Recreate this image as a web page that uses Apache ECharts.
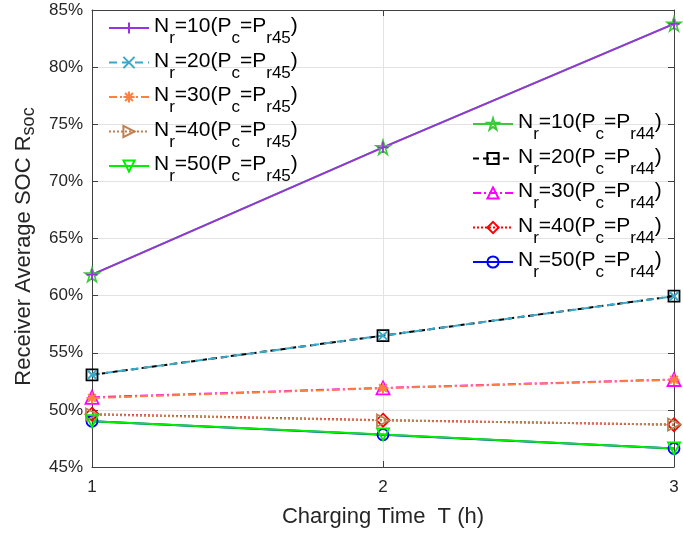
<!DOCTYPE html>
<html><head><meta charset="utf-8">
<script src="https://cdn.jsdelivr.net/npm/echarts@6/dist/echarts.min.js"></script>
<style>html,body{margin:0;padding:0;background:#fff}#c{width:683px;height:533px}</style>
</head><body><div id="c"></div>
<script>
const xValues = [1, 2, 3];
const yTicks = [45, 50, 55, 60, 65, 70, 75, 80, 85];
// Pc = Pr45
const nr10_45 = [61.84, 72.98, 83.78];
const nr20_45 = [53.07, 56.5, 59.95];
const nr30_45 = [51.04, 51.9, 52.64];
const nr40_45 = [49.59, 49.07, 48.72];
const nr50_45 = [49.01, 47.85, 46.63];
// Pc = Pr44
const nr10_44 = [61.84, 72.98, 83.78];
const nr20_44 = [53.07, 56.5, 59.95];
const nr30_44 = [51.1, 51.92, 52.66];
const nr40_44 = [49.62, 49.1, 48.7];
const nr50_44 = [49.0, 47.83, 46.62];
const labels45 = ['Nr=10(Pc=Pr45)','Nr=20(Pc=Pr45)','Nr=30(Pc=Pr45)','Nr=40(Pc=Pr45)','Nr=50(Pc=Pr45)'];
const labels44 = ['Nr=10(Pc=Pr44)','Nr=20(Pc=Pr44)','Nr=30(Pc=Pr44)','Nr=40(Pc=Pr44)','Nr=50(Pc=Pr44)'];

const FONT = 'Liberation Sans, Arial, sans-serif';
const TXT = '#262626';
function pts(arr){ return xValues.map((x,i)=>[x, arr[i]]); }

const SYM = {
  plus: 'path://M0,5L10,5M5,0L5,10',
  cross: 'path://M0,0L10,10M10,0L0,10',
  aster: 'path://M0,5L10,5M5,0L5,10M1.5,1.5L8.5,8.5M8.5,1.5L1.5,8.5',
  star: 'path://M5,0L6.123,3.455L9.755,3.455L6.816,5.59L7.939,9.045L5,6.91L2.061,9.045L3.184,5.59L0.245,3.455L3.877,3.455Z',
  triR: 'path://M0,0L10,5L0,10Z',
  triD: 'path://M0,0L10,0L5,9Z',
  triU: 'path://M5,0L10,9L0,9Z'
};

function mk(name, data, color, type, symbol, size, bw){
  return {
    name: name, type: 'line', data: pts(data), symbol: symbol, symbolSize: size,
    lineStyle: {color: color, width: 2, type: type},
    itemStyle: {color: 'rgba(0,0,0,0)', borderColor: color, borderWidth: bw || 1.5},
    emphasis: {disabled: true}, animation: false
  };
}

const series = [
  mk(labels44[0], nr10_44, '#3cc83c', 'solid', SYM.star, 14, 1.6),
  mk(labels44[1], nr20_44, '#000000', [6,4], 'rect', 11, 1.8),
  mk(labels44[2], nr30_44, '#ff00ff', [8,3,2,3], SYM.triU, 13, 1.8),
  mk(labels44[3], nr40_44, '#ff0000', [2,2], 'diamond', 13, 1.8),
  mk(labels44[4], nr50_44, '#0000ff', 'solid', 'circle', 11, 1.8),
  mk(labels45[0], nr10_45, '#9932e0', 'solid', SYM.plus, 11, 1.8),
  mk(labels45[1], nr20_45, '#3aa8c8', [8,5], SYM.cross, 9, 2),
  mk(labels45[2], nr30_45, '#ff7f40', [8,3,2,3], SYM.aster, 11, 2),
  mk(labels45[3], nr40_45, '#c08050', [2,2], SYM.triR, 12, 1.8),
  mk(labels45[4], nr50_45, '#00ee00', 'solid', SYM.triD, 12, 1.8)
];

function fmtLegend(n){
  const m = n.match(/Nr=(\d+)\(Pc=Pr(\d+)\)/);
  return '{m|N}{s|r}{m|=' + m[1] + '(P}{s|c}{m|=P}{s|r' + m[2] + '}{m|)}';
}
const rich = {
  m: {fontSize: 21, lineHeight: 24, padding: [0,0,0,0], verticalAlign: 'top', fontFamily: FONT, color: '#000'},
  s: {fontSize: 17, lineHeight: 17, padding: [14,0,0,0], verticalAlign: 'top', fontFamily: FONT, color: '#000'}
};
function legend(names, left, top){
  return {
    data: names, orient: 'vertical', left: left, top: top, itemWidth: 40, itemHeight: 14, itemGap: 3.5,
    formatter: fmtLegend, textStyle: {rich: rich, fontFamily: FONT, fontSize: 21}, padding: 0,
    selectedMode: false
  };
}

const gridLine = {show: true, lineStyle: {color: '#e3e3e3', width: 1}};
const axisLine = {show: true, lineStyle: {color: '#404040', width: 1}};
const tick = {show: true, inside: true, length: 6, lineStyle: {color: '#404040'}};

const option = {
  backgroundColor: '#fff',
  animation: false,
  grid: {left: 92, right: 9, top: 10, bottom: 64},
  legend: [legend(labels45, 108, 16), legend(labels44, 472, 112)],
  xAxis: [
    {type: 'value', min: 1, max: 3, interval: 1, position: 'bottom',
     name: 'Charging Time  T (h)', nameLocation: 'middle', nameGap: 39,
     nameTextStyle: {fontFamily: FONT, fontSize: 22, color: TXT},
     axisLine: axisLine, axisTick: tick, splitLine: gridLine,
     axisLabel: {fontFamily: FONT, fontSize: 17, color: TXT, margin: 12}},
    {type: 'value', min: 1, max: 3, interval: 1, position: 'top',
     axisLine: axisLine, axisTick: tick, splitLine: {show: false}, axisLabel: {show: false}}
  ],
  yAxis: [
    {type: 'value', min: yTicks[0], max: yTicks[yTicks.length-1], interval: 5, position: 'left',
     name: 'Receiver Average SOC R{s|soc}', nameLocation: 'middle', nameGap: 50,
     nameTextStyle: {fontFamily: FONT, fontSize: 22, color: TXT, padding: [0, 16, 0, 0],
       rich: {s: {fontFamily: FONT, fontSize: 18, color: TXT, padding: [7,0,0,0], verticalAlign: 'top', lineHeight: 18}}},
     axisLine: axisLine, axisTick: tick, splitLine: gridLine,
     axisLabel: {fontFamily: FONT, fontSize: 17, color: TXT, formatter: '{value}%', margin: 9}},
    {type: 'value', min: yTicks[0], max: yTicks[yTicks.length-1], interval: 5, position: 'right',
     axisLine: axisLine, axisTick: tick, splitLine: {show: false}, axisLabel: {show: false}}
  ],
  series: series
};
const chart = echarts.init(document.getElementById('c'), null, {renderer: 'canvas'});
chart.setOption(option);
</script></body></html>
